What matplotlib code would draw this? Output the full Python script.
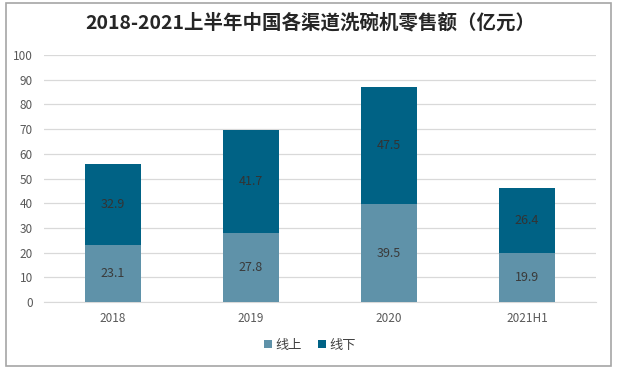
import matplotlib.pyplot as plt
import numpy as np
from matplotlib.patches import Rectangle

plt.rcParams['font.family'] = ['Noto Sans CJK SC', 'DejaVu Sans']

categories = ["2018", "2019", "2020", "2021H1"]
online = [23.1, 27.8, 39.5, 19.9]
offline = [32.9, 41.7, 47.5, 26.4]
series_names = ["线上", "线下"]
title = "2018-2021上半年中国各渠道洗碗机零售额（亿元）"

c_on = "#5F92A9"
c_off = "#006285"

fig = plt.figure(figsize=(6.19, 3.73), dpi=100)
ax = fig.add_axes([44 / 619, 1 - 302 / 373, (596 - 44) / 619, (302 - 55) / 373])

x = np.arange(len(categories))
w = 0.41
b1 = ax.bar(x, online, w, color=c_on, label=series_names[0], zorder=3)
b2 = ax.bar(x, offline, w, bottom=online, color=c_off, label=series_names[1], zorder=3)

for i in range(len(categories)):
    ax.text(x[i], online[i] / 2, f"{online[i]:.1f}", ha="center", va="center",
            fontsize=9, color="#3A3A3A", zorder=4)
    ax.text(x[i], online[i] + offline[i] / 2, f"{offline[i]:.1f}", ha="center", va="center",
            fontsize=9, color="#333333", zorder=4)

ax.set_xlim(-0.5, len(categories) - 0.5)
ax.set_ylim(0, 100)
ax.set_yticks(np.arange(0, 101, 10))
ax.set_xticks(x)
ax.set_xticklabels(categories)
ax.grid(axis="y", color="#D9D9D9", lw=0.9, zorder=0)
for s in ["top", "right", "left"]:
    ax.spines[s].set_visible(False)
ax.spines["bottom"].set_color("#D9D9D9")
ax.tick_params(axis="both", length=0, labelsize=8.5, colors="#595959")
ax.tick_params(axis="x", pad=7)
ax.tick_params(axis="y", pad=8)

fig.text(310 / 619, 1 - 23 / 373, title, ha="center", va="center",
         fontsize=14, fontweight="bold", color="#262626")

leg = fig.legend(handles=[b1, b2], loc="center", bbox_to_anchor=(310 / 619, 1 - 345 / 373),
                 ncol=2, frameon=False, fontsize=9.5, handlelength=0.6, handleheight=0.6,
                 handletextpad=0.3, columnspacing=1.2)
for t in leg.get_texts():
    t.set_color("#404040")

fig.patches.append(Rectangle((6 / 619, 1 - 366 / 373), (611 - 6) / 619, (366 - 3) / 373,
                             transform=fig.transFigure, fill=False, ec="#A6A6A6", lw=1.2))

plt.savefig("out.png", dpi=100)
